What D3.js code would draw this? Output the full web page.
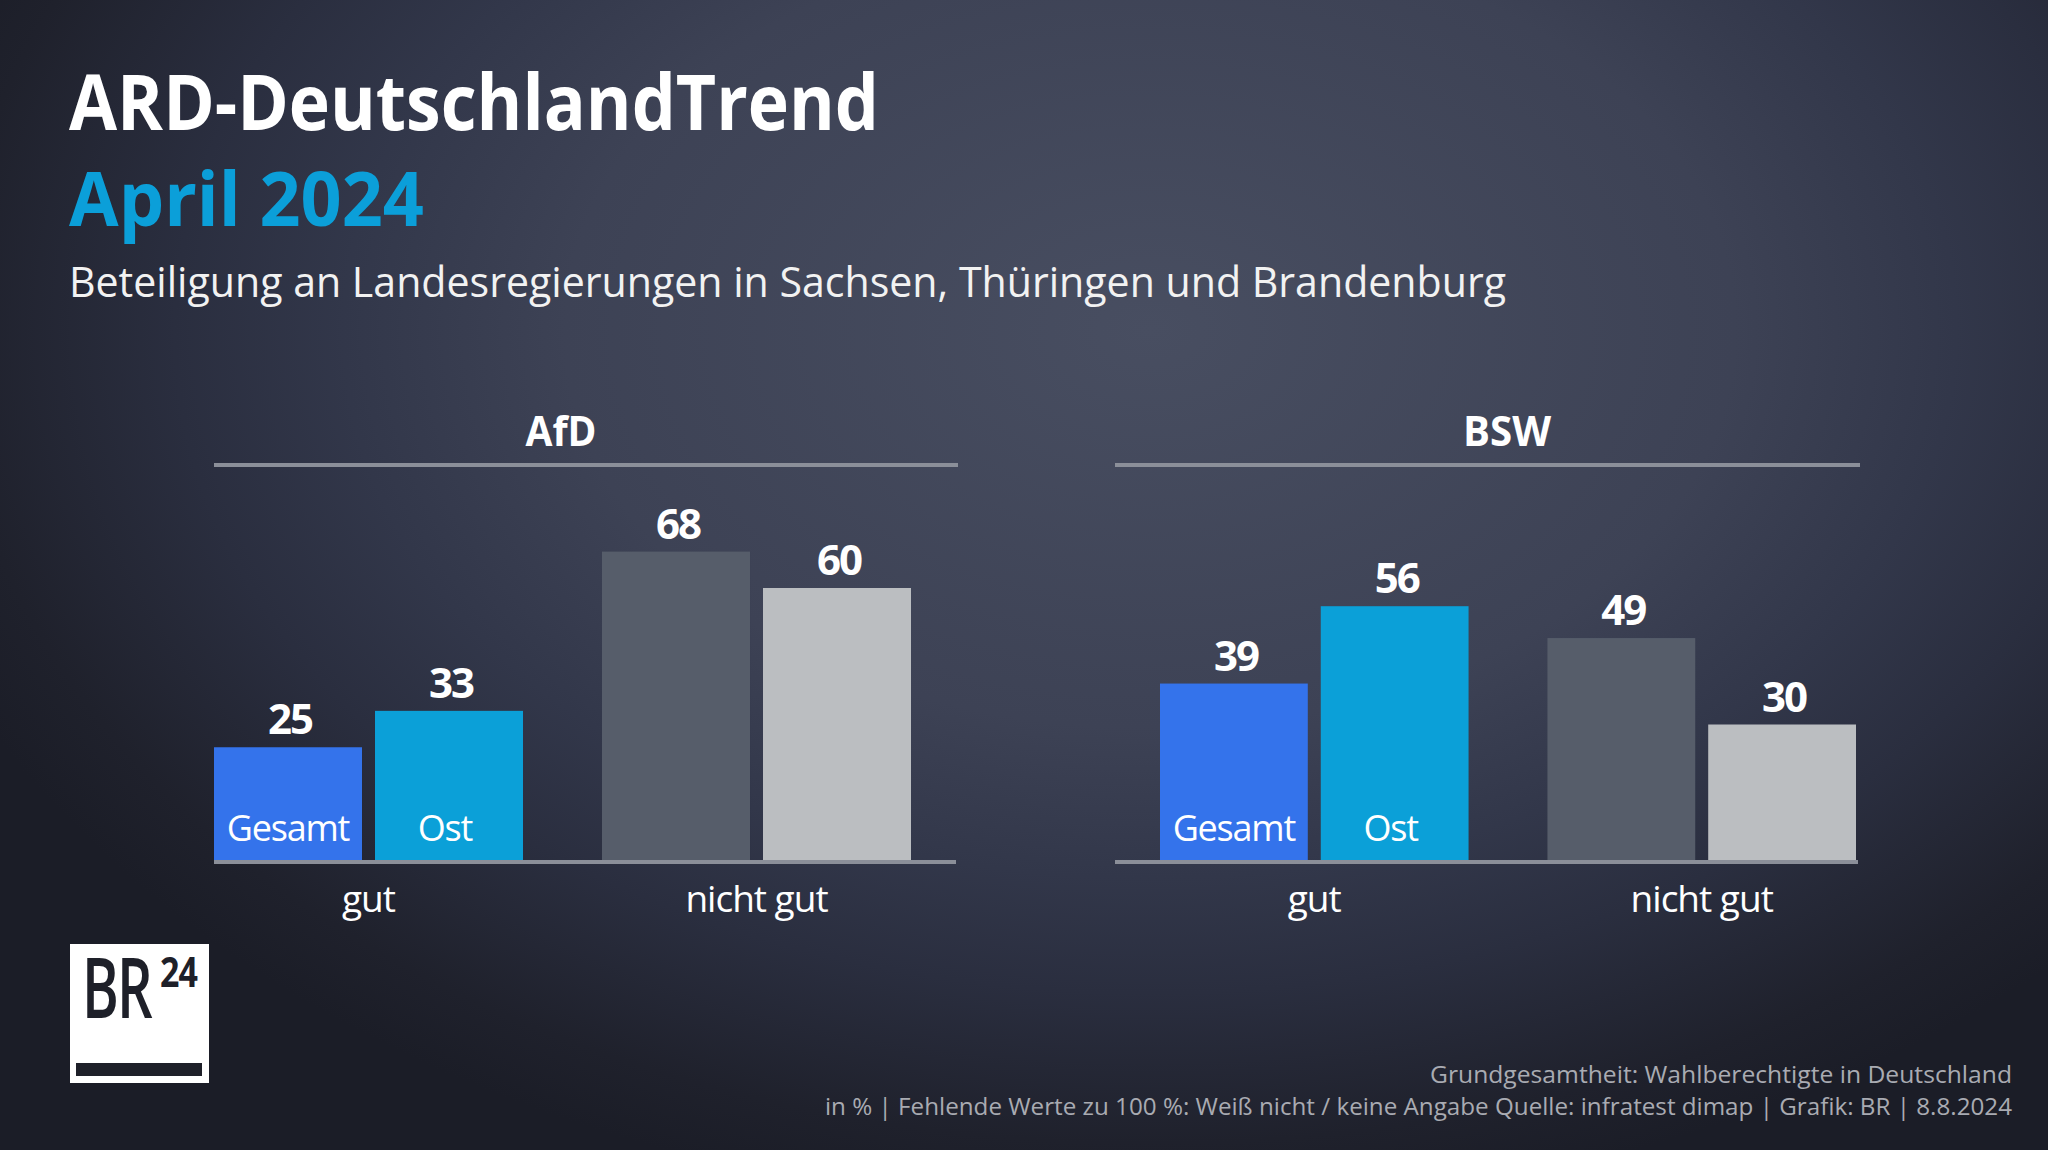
<!DOCTYPE html>
<html>
<head>
<meta charset="utf-8">
<script src="https://cdn.jsdelivr.net/npm/d3@7"></script>
<style>
  html, body { margin: 0; padding: 0; background: #22252f; }
  svg { display: block; }
  text { font-family: "Open Sans", "Noto Sans", sans-serif; }
</style>
</head>
<body>
<svg id="chart" width="2048" height="1150"></svg>
<script>
// ---- data ----
const panels = ["AfD", "BSW"];
const groups = ["gut", "nicht gut"];
const series = ["Gesamt", "Ost"];
const afdValues = [[25, 33], [68, 60]];
const bswValues = [[39, 56], [49, 30]];
const panelValues = [afdValues, bswValues];
const title = "ARD-DeutschlandTrend";
const subtitleDate = "April 2024";
const subtitle = "Beteiligung an Landesregierungen in Sachsen, Thüringen und Brandenburg";
const footer1 = "Grundgesamtheit: Wahlberechtigte in Deutschland";
const footer2 = "in % | Fehlende Werte zu 100 %: Weiß nicht / keine Angabe Quelle: infratest dimap | Grafik: BR | 8.8.2024";

// ---- layout ----
const W = 2048, H = 1150;
const svg = d3.select("#chart");
const defs = svg.append("defs");
const grad = defs.append("radialGradient")
  .attr("id", "bg").attr("gradientUnits", "userSpaceOnUse")
  .attr("cx", 1150).attr("cy", 330).attr("r", 1300)
  .attr("gradientTransform", "translate(1150,330) scale(1,0.68) translate(-1150,-330)");
[[0, "#484e61"], [0.45, "#3d4255"], [0.62, "#32374a"], [0.75, "#2a2e3f"], [0.92, "#1f212c"], [1, "#1b1d27"]]
  .forEach(([o, c]) => grad.append("stop").attr("offset", o).attr("stop-color", c));
svg.append("rect").attr("width", W).attr("height", H).attr("fill", "url(#bg)");

// titles
svg.append("text").attr("x", 69).attr("y", 130).attr("fill", "#ffffff")
  .attr("font-size", 77).attr("font-weight", 700)
  .attr("textLength", 810).attr("lengthAdjust", "spacingAndGlyphs").text(title);
svg.append("text").attr("x", 69).attr("y", 226).attr("fill", "#0b9fd9")
  .attr("font-size", 76).attr("font-weight", 700)
  .attr("textLength", 355).attr("lengthAdjust", "spacingAndGlyphs").text(subtitleDate);
svg.append("text").attr("x", 69).attr("y", 297).attr("fill", "#f2f2f2")
  .attr("font-size", 42).attr("font-weight", 400)
  .attr("textLength", 1437).attr("lengthAdjust", "spacingAndGlyphs").text(subtitle);

// panels
const panelLayout = [
  { bars: [214, 911], line: [214, 958], titleX: 561, titleW: 71 },
  { bars: [1160, 1856], line: [1115, 1860], titleX: 1507, titleW: 88 }
];
const y = d3.scaleLinear().domain([0, 100]).range([861, 861 - 455]);
const colors = {
  "gut|Gesamt": "#3473eb", "gut|Ost": "#0ba0d8",
  "nicht gut|Gesamt": "#565d6a", "nicht gut|Ost": "#bbbec1"
};
const lineColor = "#8b8f99";

panels.forEach((p, pi) => {
  const L = panelLayout[pi];
  const vals = panelValues[pi];
  const g = svg.append("g");
  const x0 = d3.scaleBand().domain(groups).range(L.bars).paddingInner(0.2036).paddingOuter(0);
  const x1 = d3.scaleBand().domain(series).range([0, x0.bandwidth()]).paddingInner(0.0807).paddingOuter(0);

  // panel title + top rule
  g.append("text").attr("x", L.titleX).attr("y", 446).attr("text-anchor", "middle")
    .attr("fill", "#ffffff").attr("font-size", 42).attr("font-weight", 700)
    .attr("textLength", L.titleW).attr("lengthAdjust", "spacingAndGlyphs").text(p);
  g.append("rect").attr("x", L.line[0]).attr("y", 463).attr("width", L.line[1] - L.line[0]).attr("height", 4)
    .attr("fill", lineColor);

  groups.forEach((grp, gi) => {
    series.forEach((s, si) => {
      const v = vals[gi][si];
      const bx = x0(grp) + x1(s);
      g.append("rect").attr("x", bx).attr("y", y(v)).attr("width", x1.bandwidth())
        .attr("height", y(0) - y(v)).attr("fill", colors[grp + "|" + s]);
      g.append("text").attr("x", bx + x1.bandwidth() / 2 + 2).attr("y", y(v) - 13)
        .attr("text-anchor", "middle").attr("fill", "#ffffff")
        .attr("font-size", 42).attr("font-weight", 700).attr("letter-spacing", -2).text(v);
      if (gi === 0) {
        g.append("text").attr("x", bx + x1.bandwidth() / 2 - (si === 1 ? 4 : 0)).attr("y", 841)
          .attr("text-anchor", "middle").attr("fill", "#ffffff")
          .attr("font-size", 36).attr("font-weight", 400).attr("letter-spacing", -1.2).text(s);
      }
    });
    g.append("text").attr("x", x0(grp) + x0.bandwidth() / 2).attr("y", 912)
      .attr("text-anchor", "middle").attr("fill", "#ffffff")
      .attr("font-size", 37).attr("font-weight", 400).attr("letter-spacing", -1).text(grp);
  });

  // baseline
  g.append("rect").attr("x", L.line[0]).attr("y", 860).attr("width", L.line[1] - L.line[0] - 2).attr("height", 4)
    .attr("fill", lineColor);
});

// footer
svg.append("text").attr("x", 2012).attr("y", 1083).attr("text-anchor", "end")
  .attr("fill", "#a9abb2").attr("font-size", 24)
  .attr("textLength", 582).attr("lengthAdjust", "spacingAndGlyphs").text(footer1);
svg.append("text").attr("x", 2012).attr("y", 1115).attr("text-anchor", "end")
  .attr("fill", "#a9abb2").attr("font-size", 24)
  .attr("textLength", 1187).attr("lengthAdjust", "spacingAndGlyphs").text(footer2);

// logo
const logo = svg.append("g");
logo.append("rect").attr("x", 70).attr("y", 944).attr("width", 139).attr("height", 139).attr("fill", "#ffffff");
logo.append("text").attr("transform", "translate(82,1018) scale(1,1.5)").attr("fill", "#1e2029")
  .attr("font-size", 56).attr("font-weight", 600).attr("letter-spacing", -2).text("BR");
logo.append("text").attr("transform", "translate(160,987) scale(1,1.2)").attr("fill", "#1e2029")
  .attr("font-size", 34).attr("font-weight", 700).attr("letter-spacing", -1).text("24");
logo.append("rect").attr("x", 76).attr("y", 1063).attr("width", 126).attr("height", 13).attr("fill", "#1e2029");
</script>
</body>
</html>
